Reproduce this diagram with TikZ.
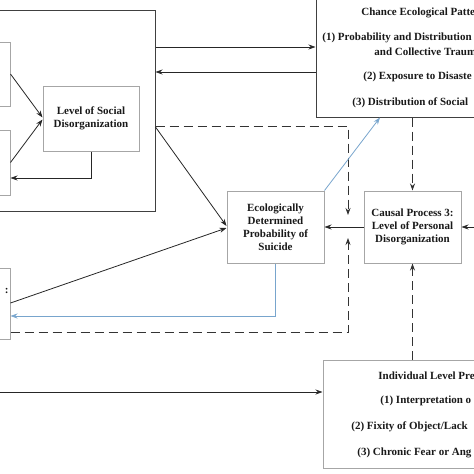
\documentclass[tikz,border=0pt]{standalone}
\usepackage{fontspec}
\setmainfont{Liberation Serif}
\usetikzlibrary{arrows.meta}
\begin{document}
\begin{tikzpicture}[x=1pt,y=-1pt,>={Stealth[length=7pt,width=5pt]},
	line width=0.8pt,
	txt/.style={font=\fontsize{11}{13}\selectfont\bfseries,text=black!90,align=center,inner sep=0pt},
	darkbox/.style={draw=black!75,line width=1pt,inner sep=0pt},
	greybox/.style={draw=black!35,line width=1pt,inner sep=0pt,txt},
	arr/.style={->,black!85},
	blue arr/.style={->,color={rgb,255:red,120;green,165;blue,205}},
	dash arr/.style={->,black!80,dash pattern=on 9pt off 5pt}]
	\useasboundingbox (0,0) rectangle (474,474);
	\clip (0,0) rectangle (474,474);
	\node[darkbox,minimum width=185pt,minimum height=201pt] (big) at (62.5,110.5) {};
	\node[greybox,minimum width=80pt,minimum height=64pt] (tl) at (-30,74) {};
	\node[greybox,minimum width=80pt,minimum height=65pt] (ml) at (-30,162.5) {};
	\node[greybox,minimum width=96pt,minimum height=65pt] (soc) at (91,118.5) {Level of Social\\Disorganization};
	\node[darkbox,minimum width=260pt,minimum height=147pt] (chance) at (446,43.5) {};
	\node[greybox,minimum width=97pt,minimum height=72pt] (eco) at (275.5,227) {Ecologically\\Determined\\Probability of\\Suicide};
	\node[greybox,minimum width=97pt,minimum height=72pt] (causal) at (412.5,227) {Causal Process 3:\\Level of Personal\\Disorganization};
	\node[greybox,minimum width=80pt,minimum height=71pt] (ll) at (-30,303.5) {};
	\node[greybox,minimum width=260pt,minimum height=108pt] (ind) at (453,414) {};
	\node[txt,anchor=east] (llt) at (9,291) {:};
	\node[txt,anchor=west] (c0) at (361,13) {Chance Ecological Patte};
	\node[txt,anchor=west] (c1) at (322,38) {(1) Probability and Distribution};
	\node[txt,anchor=west] (c2) at (374,52) {and Collective Traum};
	\node[txt,anchor=west] (c3) at (363,77) {(2) Exposure to Disaste};
	\node[txt,anchor=west] (c4) at (352,103) {(3) Distribution of Social};
	\node[txt,anchor=west] (i0) at (378,376) {Individual Level Pre};
	\node[txt,anchor=west] (i1) at (380,401) {(1) Interpretation o};
	\node[txt,anchor=west] (i2) at (351,427) {(2) Fixity of Object/Lack};
	\node[txt,anchor=west] (i3) at (357,453) {(3) Chronic Fear or Ang};
	\coordinate (mid) at (348,227);
	\coordinate (rin) at (490,227);
	\coordinate (lin) at (-10,392);
	\draw[arr] (tl.east) -- ([yshift=1pt]soc.west);
	\draw[arr] (ml.east) -- ([yshift=-1pt]soc.west);
	\draw[arr] (soc.south) |- ([yshift=-15.5pt]ml.east);
	\draw[arr] (big.east |- 0,47) -- (chance.west |- 0,47);
	\draw[arr] (chance.west |- 0,72) -- (big.east |- 0,72);
	\draw[dash arr] (big.east |- 0,126) -| ([yshift=12pt]mid);
	\draw[arr] (big.east |- 0,127) -- ([yshift=1pt]eco.west);
	\draw[arr] ([yshift=0.5pt]ll.east) -- ([yshift=-1pt]eco.west);
	\draw[blue arr] (eco.north east) -- (chance.south -| 380,0);
	\draw[blue arr] (eco.south) |- ([yshift=-12.5pt]ll.east);
	\draw[dash arr] ([yshift=-28.5pt]ll.east) -| ([yshift=-11pt]mid);
	\draw[arr] (causal.west) -- (eco.east);
	\draw[arr] (rin) -- (causal.east);
	\draw[dash arr] (chance.south -| causal.north) -- (causal.north);
	\draw[dash arr] (ind.north -| causal.south) -- (causal.south);
	\draw[arr] (lin) -- (ind.west |- lin);
\end{tikzpicture}
\end{document}
